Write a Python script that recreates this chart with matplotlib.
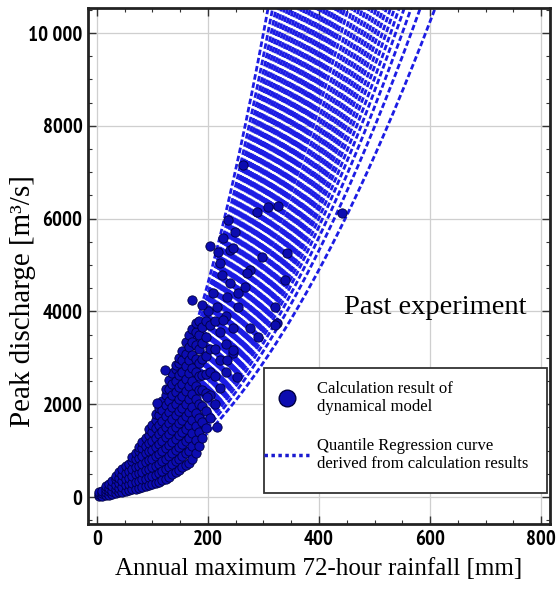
import numpy as np
import matplotlib
matplotlib.use("Agg")
import matplotlib.pyplot as plt
from matplotlib import font_manager
from matplotlib.lines import Line2D
from matplotlib.patches import Rectangle
from matplotlib.ticker import MultipleLocator, FuncFormatter

# dense part of the cloud: rainfall column -> peak discharges read in that column
col_rain = [4, 10, 16, 22, 28, 34, 40, 46, 52, 58, 64, 70, 76, 82, 88, 94, 100,
            106, 112, 118, 124, 130, 136, 142, 148, 154, 160, 166, 172, 178,
            184, 190, 196, 204, 212, 222, 232, 246]
col_peak = [
    [20, 60, 100],
    [30, 80, 140],
    [40, 100, 170, 230],
    [50, 120, 200, 290],
    [70, 140, 230, 340],
    [85, 170, 270, 380, 450],
    [100, 200, 310, 420, 530],
    [115, 220, 340, 470, 600],
    [130, 250, 380, 520, 680],
    [150, 280, 420, 570, 720],
    [165, 300, 450, 610, 770, 870],
    [180, 330, 490, 650, 810, 950],
    [200, 350, 510, 680, 850, 1000, 1080],
    [215, 380, 550, 720, 890, 1050, 1190],
    [235, 400, 580, 760, 940, 1110, 1270],
    [255, 430, 610, 800, 990, 1170, 1340, 1470],
    [275, 450, 640, 830, 1020, 1210, 1400, 1560],
    [300, 480, 680, 880, 1080, 1280, 1480, 1660, 1780],
    [330, 520, 720, 930, 1140, 1350, 1560, 1760, 1920],
    [360, 560, 770, 990, 1210, 1430, 1650, 1870, 2080],
    [400, 610, 830, 1060, 1290, 1520, 1750, 1980, 2200, 2330],
    [440, 650, 880, 1120, 1360, 1600, 1840, 2080, 2320, 2520],
    [490, 710, 950, 1190, 1440, 1690, 1940, 2190, 2440, 2680],
    [540, 770, 1010, 1260, 1510, 1760, 2010, 2260, 2510, 2760, 2850],
    [590, 820, 1070, 1330, 1590, 1850, 2110, 2370, 2630, 2890, 3000],
    [640, 880, 1140, 1400, 1660, 1920, 2180, 2440, 2700, 2960, 3150],
    [690, 940, 1200, 1470, 1740, 2010, 2280, 2550, 2820, 3090, 3350],
    [740, 1000, 1270, 1550, 1830, 2110, 2390, 2670, 2950, 3230, 3500],
    [830, 1100, 1380, 1660, 1940, 2220, 2500, 2780, 3060, 3340, 3620],
    [960, 1240, 1530, 1820, 2110, 2400, 2690, 2980, 3270, 3560, 3750],
    [1110, 1400, 1700, 2000, 2300, 2600, 2900, 3200, 3500, 3800],
    [1280, 1620, 1960, 2300, 2640, 2980, 3320, 3660],
    [1480, 1850, 2250, 2650, 3050, 3450, 3800],
    [1700, 2200, 2700, 3200, 3700],
    [2000, 2600, 3200, 3800],
    [2350, 2950, 3550],
    [2700, 3300, 3900],
    [3100, 3650],
]

# scattered results outside the dense cloud
out_rain = [171, 122, 108, 204, 218, 222, 227, 236, 240, 249, 245, 263, 288, 308,
            326, 297, 342, 339, 441, 225, 240, 254, 276, 270, 234, 254, 216, 321,
            324, 290, 276, 321, 267, 200, 190, 210, 245, 227, 234, 252, 216, 198]
out_peak = [4250, 2740, 2025, 5410, 5280, 5040, 5580, 5970, 5320, 5710, 5365, 7155,
            6140, 6250, 6270, 5170, 5260, 4680, 6120, 4780, 4610, 4090, 4890, 4830,
            4310, 4400, 4090, 4090, 3750, 3450, 3640, 3710, 4525, 4000, 4150, 4400,
            3170, 3810, 2950, 2590, 1510, 2155]

# quantile regression curves: rainfall where each curve reaches 10000 m3/s, and power
q_x10k = [300, 308, 314, 319, 324, 329, 334, 339, 344, 349, 354, 359, 364, 369,
          374, 379, 384, 389, 394, 399, 404, 409, 414, 419, 424, 429, 434, 440,
          447, 453, 459, 465, 471, 477, 483, 489, 495, 501, 507, 514, 521, 529,
          538, 550, 566, 592]
q_power = [1.91, 1.91, 1.90, 1.90, 1.90, 1.89, 1.89, 1.89, 1.89, 1.88, 1.88, 1.88,
           1.88, 1.87, 1.87, 1.87, 1.87, 1.86, 1.86, 1.86, 1.86, 1.86, 1.85, 1.85,
           1.85, 1.85, 1.85, 1.84, 1.84, 1.84, 1.84, 1.84, 1.84, 1.83, 1.83, 1.83,
           1.83, 1.83, 1.83, 1.83, 1.82, 1.82, 1.82, 1.82, 1.82, 1.82]

serif = ['Liberation Serif', 'DejaVu Serif']

# narrow bold sans for the tick labels if one is installed
narrow = [f for f in font_manager.fontManager.ttflist
          if 'Narrow' in f.name and f.weight in (700, 'bold')
          and 'Italic' not in f.fname]
if narrow:
    tick_font = font_manager.FontProperties(fname=narrow[0].fname, size=15)
else:
    tick_font = font_manager.FontProperties(family='Liberation Sans', weight='bold',
                                            size=13.5)

fig = plt.figure(figsize=(5.59, 5.89), dpi=100)
ax = fig.add_axes([0.1574, 0.1104, 0.8265, 0.876])

xs = np.linspace(0, 640, 400)
for x10, p in zip(q_x10k, q_power):
    ax.plot(xs, 10000 * (xs / x10) ** p, color='#1c1ce4', lw=2.0,
            dashes=(2.0, 1.0), zorder=2)

rain = np.concatenate([[x] * len(v) for x, v in zip(col_rain, col_peak)] + [out_rain])
peak = np.concatenate([np.array(v) for v in col_peak] + [out_peak])
ax.scatter(rain, peak, s=45, facecolor='#0c0cb0', edgecolor='#000040',
           linewidth=0.6, zorder=3)

ax.set_xlim(-16, 816)
ax.set_ylim(-580, 10540)
ax.xaxis.set_major_locator(MultipleLocator(200))
ax.xaxis.set_minor_locator(MultipleLocator(50))
ax.yaxis.set_major_locator(MultipleLocator(2000))
ax.yaxis.set_minor_locator(MultipleLocator(500))
ax.yaxis.set_major_formatter(FuncFormatter(
    lambda v, pos: '10 000' if v == 10000 else '%d' % v))
ax.grid(True, which='major', color='#cfcfcf', lw=0.9, zorder=0)
ax.tick_params(which='both', direction='in', top=True, right=True, color='#333333')
ax.tick_params(which='major', length=6, width=1.0, pad=4)
ax.tick_params(which='minor', length=3, width=0.8)
for lab in ax.get_xticklabels() + ax.get_yticklabels():
    lab.set_fontproperties(tick_font)
for sp in ax.spines.values():
    sp.set_linewidth(2.0)
    sp.set_color('#222222')

ax.set_xlabel('Annual maximum 72-hour rainfall [mm]', family=serif, fontsize=18,
              labelpad=7)
ax.set_ylabel('Peak discharge [m³/s]', family=serif, fontsize=21)
ax.yaxis.set_label_coords(-0.112, 0.432)

ax.text(0.751, 0.419, 'Past experiment', transform=ax.transAxes, family=serif,
        fontsize=20.5, ha='center', va='center')

# legend: plain box, entries placed inside it
ax.add_patch(Rectangle((0.381, 0.060), 0.613, 0.242, transform=ax.transAxes,
                       facecolor='white', edgecolor='#333333', lw=1.3, zorder=5))
handles = [Line2D([], [], marker='o', ls='none', markersize=12,
                  markerfacecolor='#0c0cb0', markeredgecolor='#000040'),
           Line2D([], [], ls=(0, (1, 1)), lw=2.5, color='#1a1ad0')]
labels = ['Calculation result of\ndynamical model',
          'Quantile Regression curve\nderived from calculation results']
leg = ax.legend(handles, labels, loc='upper left', bbox_to_anchor=(0.381, 0.277),
                borderaxespad=0, frameon=False, prop={'family': serif, 'size': 12},
                handlelength=2.7, handletextpad=0.5, labelspacing=1.35,
                borderpad=0)
leg.set_zorder(6)

fig.savefig('out.png', dpi=100)
